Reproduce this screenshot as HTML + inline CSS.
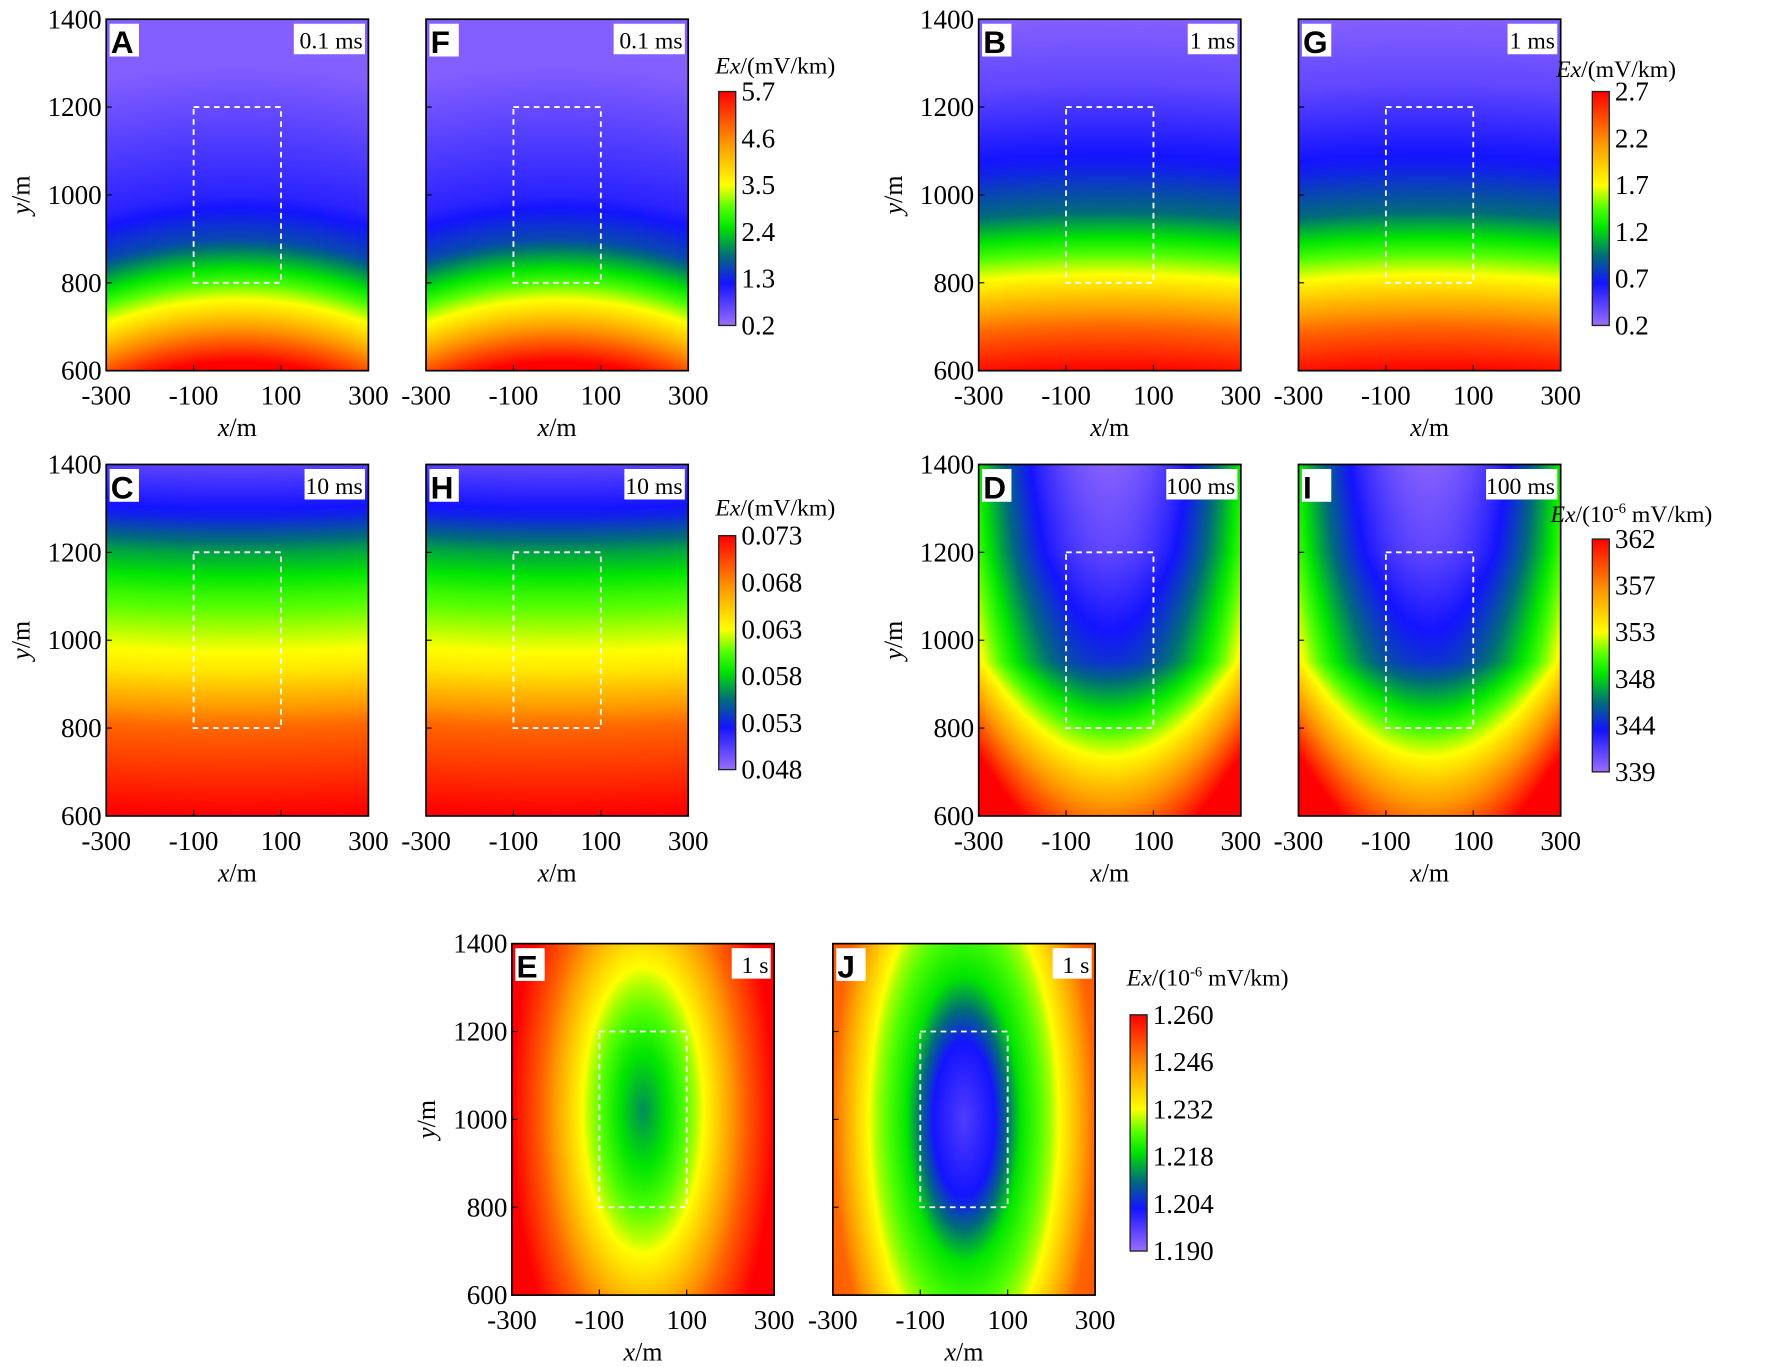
<!DOCTYPE html>
<html><head><meta charset="utf-8"><style>
html,body{margin:0;padding:0;background:#fff;width:1772px;height:1367px;overflow:hidden}
#wrap{position:absolute;left:0;top:0;width:1568px;height:1210px;transform:scale(1.130102);transform-origin:0 0}
canvas{position:absolute}
svg{position:absolute;left:0;top:0}
text{font-family:"Liberation Serif",serif;fill:#000}
</style></head><body>
<div id="wrap">
<svg id="svg" width="1568" height="1210" viewBox="0 0 1568 1210"></svg>
</div>
<script>
// ---- data ----
const xTicks=[-300,-100,100,300];
const yTicks=[600,800,1000,1200,1400];
const cbTicksA=["5.7","4.6","3.5","2.4","1.3","0.2"];
const cbTicksB=["2.7","2.2","1.7","1.2","0.7","0.2"];
const cbTicksC=["0.073","0.068","0.063","0.058","0.053","0.048"];
const cbTicksD=["362","357","353","348","344","339"];
const cbTicksE=["1.260","1.246","1.232","1.218","1.204","1.190"];
// field profiles: s positions and normalized levels
const profA_s=[720,830,900,1000,1100,1400]; const profA_t=[1,0.68,0.5,0.25,0.15,0.03];
const profB_s=[600,700,790,880,960,1060,1250,1400]; const profB_t=[1,0.85,0.66,0.47,0.3,0.2,0.08,0.03];
const profC_s=[600,800,930,1100,1200,1280,1400]; const profC_t=[1,0.85,0.64,0.48,0.35,0.2,0.08];
const profD_s=[600,700,820,950,1200,1400]; const profD_t=[0.82,0.66,0.45,0.22,0.08,0.03];
const profE_s=[0,60,120,165,230,300,600]; const profE_t=[0.33,0.43,0.55,0.67,0.85,1,1];
const profJ_s=[0,70,130,200,245,300,600]; const profJ_t=[0.1,0.18,0.42,0.55,0.68,0.85,1];
// colormap
const cmapPos=[0,0.18,0.3,0.42,0.5,0.6,0.78,1];
const cmapCol=[[155,110,255],[20,20,255],[0,110,120],[0,230,0],[80,255,0],[255,255,0],[255,150,0],[255,0,0]];

function interp(xs,ys,v){if(v<=xs[0])return ys[0];for(let i=1;i<xs.length;i++){if(v<=xs[i]){const f=(v-xs[i-1])/(xs[i]-xs[i-1]);return ys[i-1]+f*(ys[i]-ys[i-1]);}}return ys[ys.length-1];}
function cmap(t){t=Math.max(0,Math.min(1,t));for(let i=1;i<cmapPos.length;i++){if(t<=cmapPos[i]){const f=(t-cmapPos[i-1])/(cmapPos[i]-cmapPos[i-1]);const a=cmapCol[i-1],b=cmapCol[i];return [a[0]+f*(b[0]-a[0]),a[1]+f*(b[1]-a[1]),a[2]+f*(b[2]-a[2])];}}return cmapCol[cmapCol.length-1];}
const fields={
 A:(x,y)=>interp(profA_s,profA_t,Math.hypot(x,y+100)),
 B:(x,y)=>interp(profB_s,profB_t,y+0.00015*x*x),
 C:(x,y)=>interp(profC_s,profC_t,y-0.0001*x*x),
 D:(x,y)=>interp(profD_s,profD_t,y)+4.5e-6*x*x,
 E:(x,y)=>interp(profE_s,profE_t,Math.hypot(x,(y-1020)/2.35)),
 J:(x,y)=>interp(profJ_s,profJ_t,Math.hypot(x,(y-1000)/2.5))
};
const panels=[
 {id:'A',f:'A',x:94,y:17,lab:'0.1 ms',yl:true},{id:'F',f:'A',x:377,y:17,lab:'0.1 ms'},
 {id:'B',f:'B',x:866,y:17,lab:'1 ms',yl:true},{id:'G',f:'B',x:1149,y:17,lab:'1 ms'},
 {id:'C',f:'C',x:94,y:411,lab:'10 ms',yl:true},{id:'H',f:'C',x:377,y:411,lab:'10 ms'},
 {id:'D',f:'D',x:866,y:411,lab:'100 ms',yl:true},{id:'I',f:'D',x:1149,y:411,lab:'100 ms'},
 {id:'E',f:'E',x:453,y:835,lab:'1 s',yl:true},{id:'J',f:'J',x:737,y:835,lab:'1 s'}
];
const bars=[
 {x:636,y:81,h:207,ticks:cbTicksA,tx:633,ty:65,unit:'(mV/km)'},
 {x:1409,y:81,h:207,ticks:cbTicksB,tx:1377,ty:68,unit:'(mV/km)'},
 {x:636,y:474,h:207,ticks:cbTicksC,tx:633,ty:456,unit:'(mV/km)'},
 {x:1409,y:477,h:206,ticks:cbTicksD,tx:1372,ty:462,unit:'exp'},
 {x:1000,y:898,h:209,ticks:cbTicksE,tx:997,ty:872,unit:'exp'}
];
const W=232,H=311;
const svg=document.getElementById('svg');const wrap=document.getElementById('wrap');
const NS='http://www.w3.org/2000/svg';
function el(tag,attrs,parent){const e=document.createElementNS(NS,tag);for(const k in attrs)e.setAttribute(k,attrs[k]);(parent||svg).appendChild(e);return e;}
function sx(p,v){return p.x+(v+300)/600*W;}
function sy(p,v){return p.y+H-(v-600)/800*H;}

panels.forEach(p=>{
 const c=document.createElement('canvas');
 
 
 const cw=264,ch=354;c.width=cw;c.height=ch;
 c.style.left=p.x+'px';c.style.top=p.y+'px';c.style.width=W+'px';c.style.height=H+'px';
 const ctx=c.getContext('2d');const img=ctx.createImageData(cw,ch);
 for(let j=0;j<ch;j++){const yv=1400-(j+0.5)/ch*800;for(let i=0;i<cw;i++){const xv=-300+(i+0.5)/cw*600;const col=cmap(fields[p.f](xv,yv));const k=(j*cw+i)*4;img.data[k]=col[0];img.data[k+1]=col[1];img.data[k+2]=col[2];img.data[k+3]=255;}}
 ctx.putImageData(img,0,0);
 wrap.insertBefore(c,svg);
 const g=el('g',{});
 
 
 const r=el('rect',{x:sx(p,-100),y:sy(p,1200),width:sx(p,100)-sx(p,-100),height:sy(p,800)-sy(p,1200),fill:'none',stroke:'#fff','stroke-width':1.6,'stroke-dasharray':'5,4'},g);
 
 
 el('rect',{x:p.x,y:p.y,width:W,height:H,fill:'none',stroke:'#000','stroke-width':1.5},g);
 xTicks.forEach(v=>{const X=sx(p,v);el('line',{x1:X,x2:X,y1:p.y+H,y2:p.y+H-5,stroke:'#000','stroke-width':1},g);
  const t=el('text',{x:X,y:p.y+H+30,'text-anchor':'middle','font-size':24},g);t.textContent=v;
  
  });
 yTicks.forEach(v=>{const Y=sy(p,v);el('line',{x1:p.x,x2:p.x+5,y1:Y,y2:Y,stroke:'#000','stroke-width':1},g);
  if(p.yl){const t=el('text',{x:p.x-4,y:Y+8,'text-anchor':'end','font-size':24},g);t.textContent=v;
   
   }});
 const xt=el('text',{x:p.x+W/2,y:p.y+H+58,'text-anchor':'middle','font-size':23},g);
 xt.innerHTML='<tspan font-style="italic">x</tspan>/m';
 
 
 if(p.yl){const cx=p.x-68,cy=p.y+H/2;const yt=el('text',{x:cx,y:cy,'text-anchor':'middle','font-size':23,transform:`rotate(-90 ${cx} ${cy})`},g);
  yt.innerHTML='<tspan font-style="italic">y</tspan>/m';
  
  }
 el('rect',{x:p.x+3,y:p.y+4,width:26,height:29,fill:'#fff'},g);
 const lt=el('text',{x:p.x+4,y:p.y+30,'font-size':28,'font-weight':'bold',style:'font-family:"Liberation Sans",sans-serif'},g);lt.textContent=p.id;
 
 
 const lw=p.lab.length*9.5+6;
 el('rect',{x:p.x+W-lw-3,y:p.y+4,width:lw,height:27,fill:'#fff'},g);
 const tl=el('text',{x:p.x+W-5,y:p.y+26,'text-anchor':'end','font-size':21},g);tl.textContent=p.lab;
 
 
});

const defs=el('defs',{});
const grad=el('linearGradient',{id:'cb',x1:0,y1:1,x2:0,y2:0},defs);
cmapPos.forEach((pp,i)=>{const c=cmapCol[i];el('stop',{offset:pp,'stop-color':`rgb(${c[0]},${c[1]},${c[2]})`},grad);});
bars.forEach((b,bi)=>{
 const g=el('g',{});
 
 
 el('rect',{x:b.x,y:b.y,width:15,height:b.h,fill:'url(#cb)',stroke:'#222','stroke-width':1.2},g);
 b.ticks.forEach((lab,i)=>{const Y=b.y+i*b.h/(b.ticks.length-1);
  const t=el('text',{x:b.x+20,y:Y+8,'font-size':24},g);t.textContent=lab;
  
  });
 const tt=el('text',{x:b.tx,y:b.ty,'font-size':21},g);
 if(b.unit==='exp')tt.innerHTML='<tspan font-style="italic">Ex</tspan>/(10<tspan font-size="13" dy="-8">-6</tspan><tspan dy="8"> mV/km)</tspan>';
 else tt.innerHTML='<tspan font-style="italic">Ex</tspan>/(mV/km)';
 
 
});
</script>
</body></html>
